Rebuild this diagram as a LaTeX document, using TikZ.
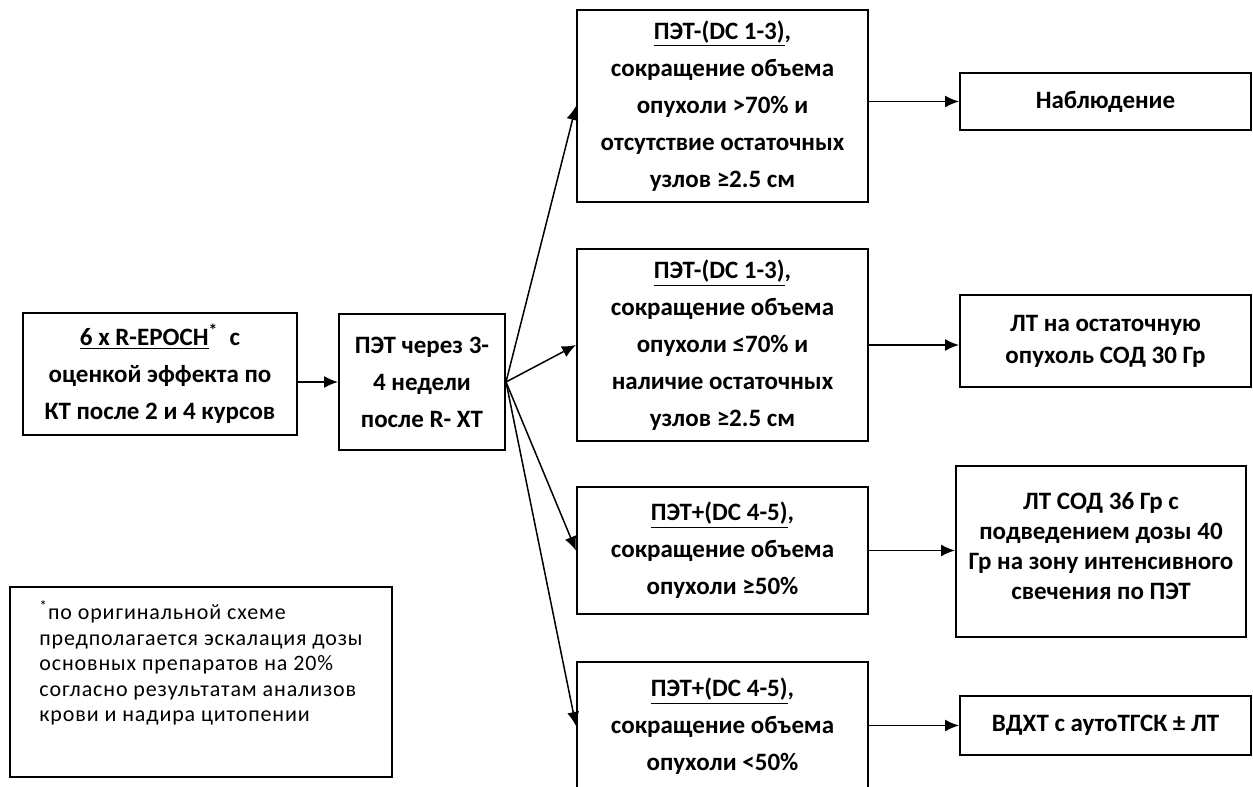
\documentclass[tikz,border=0pt]{standalone}
\usepackage{fontspec}
\setmainfont{Carlito}
\usetikzlibrary{arrows.meta}
\tikzset{
  box/.style={draw, line width=1pt, align=center, inner sep=0pt,
    font=\bfseries\fontsize{12.5}{18.5}\selectfont},
  arr/.style={-{Latex[length=7pt,width=6pt]}, line width=0.75pt},
}

\begin{document}
\begin{tikzpicture}[x=0.5pt, y=-0.5pt]
  \useasboundingbox (0,0) rectangle (1253,787);
  %Start
  \node[box, minimum width=137pt, minimum height=61pt] (epoch) at (160,374)
    {\underline{6 х R-EPOCH}\textsuperscript{*}\ \ с\\оценкой эффекта по\\КТ после 2 и 4 курсов};
  \node[box, minimum width=83pt, minimum height=68pt] (pet) at (422,382)
    {ПЭТ через 3-\\4 недели\\после R- ХТ};
  %PET results
  \node[box, minimum width=145.5pt, minimum height=96pt] (neg1) at (722.5,106)
    {\underline{ПЭТ-(DC 1-3)},\\сокращение объема\\опухоли >70\% и\\отсутствие остаточных\\узлов ≥2.5 см};
  \node[box, minimum width=145.5pt, minimum height=96pt] (neg2) at (722.5,345)
    {\underline{ПЭТ-(DC 1-3)},\\сокращение объема\\опухоли ≤70\% и\\наличие остаточных\\узлов ≥2.5 см};
  \node[box, minimum width=145.5pt, minimum height=63.5pt] (pos1) at (722.5,550.5)
    {\underline{ПЭТ+(DC 4-5)},\\сокращение объема\\опухоли ≥50\%};
  \node[box, minimum width=145.5pt, minimum height=64pt] (pos2) at (722.5,726)
    {\underline{ПЭТ+(DC 4-5)},\\сокращение объема\\опухоли <50\%};
  %Treatment
  \node[box, minimum width=145.5pt, minimum height=28.5pt] (obs) at (1105.5,101.5)
    {Наблюдение};
  \node[box, minimum width=145.5pt, minimum height=46pt,
    font=\bfseries\fontsize{12.5}{16}\selectfont] (rt30) at (1105.5,341)
    {ЛТ на остаточную\\опухоль СОД 30 Гр};
  \node[box, minimum width=145pt, minimum height=85.5pt,
    font=\bfseries\fontsize{12.5}{15}\selectfont] (rt36) at (1101,551.5)
    {ЛТ СОД 36 Гр с\\подведением дозы 40\\Гр на зону интенсивного\\свечения по ПЭТ\\[-9pt]};
  \node[box, minimum width=145.5pt, minimum height=29.5pt] (hdct) at (1105.5,725.5)
    {ВДХТ с аутоТГСК ± ЛТ};
  %Footnote
  \node[draw, line width=1pt, align=left, inner sep=0pt,
    minimum width=191pt, minimum height=95pt,
    font=\fontsize{11}{12.8}\selectfont\addfontfeatures{LetterSpace=4}]
    (note) at (201,682)
    {\textsuperscript{*}по оригинальной схеме\\предполагается эскалация дозы\\основных препаратов на 20\%\\согласно результатам анализов\\крови и надира цитопении\\[8pt]};
  %Arrows
  \draw[arr] (epoch.east |- pet.west) -- (pet.west);
  \foreach \n in {neg1, neg2, pos1, pos2}
    \draw[arr] (pet.east) -- (\n.west);
  \draw[arr] (neg1.east |- obs.west) -- (obs.west);
  \draw[arr] (neg2.east) -- (neg2.east -| rt30.west);
  \draw[arr] (pos1.east) -- (pos1.east -| rt36.west);
  \draw[arr] (pos2.east |- hdct.west) -- (hdct.west);
\end{tikzpicture}
\end{document}
